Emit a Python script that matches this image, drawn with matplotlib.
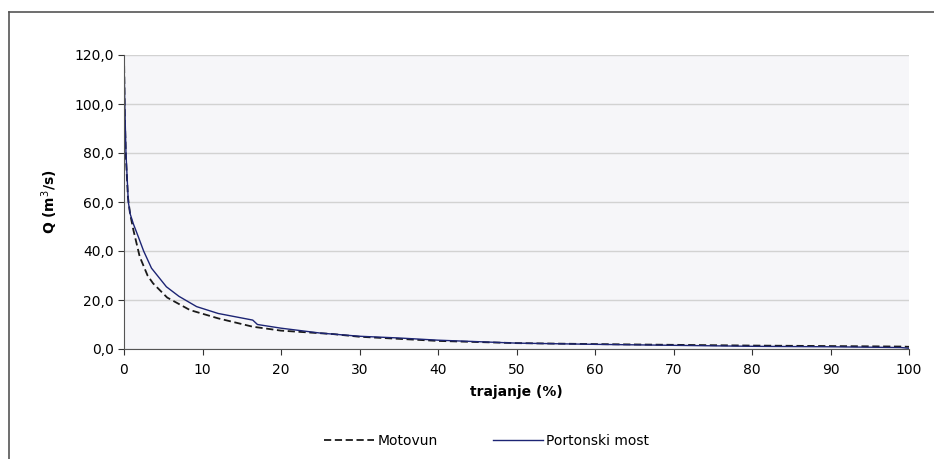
import matplotlib.pyplot as plt
from matplotlib.lines import Line2D

# duration curves
motovun_x = [0, 0.05, 0.1, 0.25, 0.5, 0.76, 1.2, 2.0, 3.0, 3.7, 5.5, 8.4, 12, 16.4, 20, 26.6, 30, 40, 50, 60, 70, 80, 90, 99, 100]
motovun_q = [120, 108, 95, 78, 62, 55.5, 48.5, 37.7, 30, 26.8, 21, 15.9, 12.5, 9.1, 7.5, 6.1, 5.0, 3.3, 2.4, 2.0, 1.7, 1.4, 1.2, 1.0, 0.9]

porton_x = [0, 0.05, 0.1, 0.25, 0.55, 0.8, 1.2, 1.8, 2.5, 3.5, 5.4, 7, 9.25, 12, 16.4, 17.0, 20, 25, 30, 35, 40, 45, 50, 60, 70, 80, 90, 99, 100]
porton_q = [120, 110, 100, 80, 60, 55, 51, 46, 40, 33, 25.4, 21.5, 17.3, 14.5, 11.8, 10.0, 8.5, 6.5, 5.2, 4.5, 3.6, 3.0, 2.4, 1.9, 1.5, 1.1, 0.9, 0.6, 0.3]

x_ticks = list(range(0, 101, 10))
y_ticks = [0, 20, 40, 60, 80, 100, 120]

fig = plt.figure(figsize=(9.34, 4.59), dpi=100)
ax = fig.add_axes([124/934, 1-349/459, (909-124)/934, (349-55)/459])
ax.set_facecolor('#f6f6f9')

ax.plot(motovun_x, motovun_q, color='#1a1a1a', linestyle=(0, (4, 2)), linewidth=1.3, label='Motovun')
ax.plot(porton_x, porton_q, color='#1c2474', linewidth=1.0, label='Portonski most')

ax.set_xlim(0, 100)
ax.set_ylim(0, 120)
ax.set_xticks(x_ticks)
ax.set_yticks(y_ticks)
ax.set_yticklabels([f'{v:.1f}'.replace('.', ',') for v in y_ticks])
ax.tick_params(labelsize=10, length=4, color='#333333')
ax.tick_params(axis='x', pad=6)
ax.grid(axis='y', color='#d2d2d2', linewidth=1)
ax.set_axisbelow(True)
for s in ['top', 'right']:
    ax.spines[s].set_visible(False)
for s in ['left', 'bottom']:
    ax.spines[s].set_color('#555555')

ax.set_xlabel('trajanje (%)', fontsize=10, fontweight='bold', labelpad=6)
ax.set_ylabel('Q (m$^3$/s)', fontsize=10, fontweight='bold', labelpad=10)

ax.legend(loc='upper center', bbox_to_anchor=(0.462, -0.245), ncol=2, frameon=False,
          fontsize=10, handlelength=3.6, columnspacing=4, handletextpad=0.2)

# outer chart frame (left and top visible)
fig.add_artist(Line2D([9/934, 9/934], [0, 1-12/459], color='#555555', linewidth=1.2))
fig.add_artist(Line2D([9/934, 1], [1-12/459, 1-12/459], color='#555555', linewidth=1.2))

fig.savefig('out.png', dpi=100)
